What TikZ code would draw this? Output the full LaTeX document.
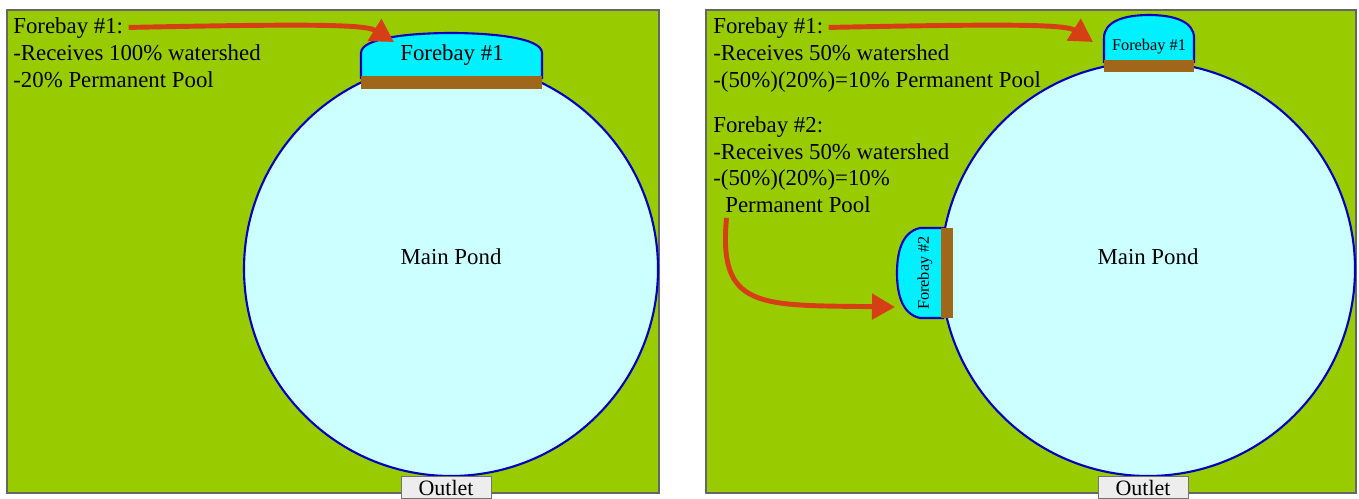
\documentclass[tikz,border=0pt]{standalone}
\usepackage{fontspec}
\setmainfont{Liberation Serif}
\usetikzlibrary{arrows.meta}
\definecolor{grass}{RGB}{153,204,0}
\definecolor{pondfill}{RGB}{204,255,255}
\definecolor{forebayfill}{RGB}{0,240,255}
\definecolor{bermbrown}{RGB}{160,102,26}
\definecolor{rim}{RGB}{0,0,190}
\definecolor{flowred}{RGB}{214,62,22}

\begin{document}
\begin{tikzpicture}[x=0.02cm,y=-0.02cm,
    panel/.style={fill=grass,draw=black!60,line width=0.6pt},
    pond/.style={fill=pondfill,draw=rim,line width=1.2pt},
    dome/.style={fill=forebayfill,draw=rim,line width=1.2pt},
    berm/.style={fill=bermbrown},
    flow/.style={draw=flowred,line width=2.8pt,shorten <=3pt,-{Triangle[length=0.46cm,width=0.5cm]}},
    note/.style={anchor=base west,inner sep=0pt,font=\fontsize{13}{15}\selectfont},
    label/.style={inner sep=0pt,font=\fontsize{13}{15}\selectfont},
    small/.style={inner sep=0pt,font=\fontsize{9.3}{11}\selectfont},
    outlet/.style={draw=black!55,fill=black!7,minimum width=1.8cm,minimum height=0.44cm,inner sep=0pt,font=\fontsize{12.5}{14}\selectfont}]
  \useasboundingbox (0,0) rectangle (1359,498);

  \path[panel] (7,10) rectangle (659,493);
  \path[panel] (706,10) rectangle (1356,493);

  \path[pond] (451,269) circle[radius=207];
  \path[pond] (1148,269) circle[radius=207];

  \path[dome] (361,78) -- (361,53) .. controls (361,37) and (415,33) .. (451,33) .. controls (487,33) and (542,37) .. (542,53) -- (542,78) -- cycle;
  \path[berm] (361,76) rectangle (542,89);
  \path[dome] (1104,62) -- (1104,38) .. controls (1104,21) and (1125,15) .. (1149,15) .. controls (1173,15) and (1194,21) .. (1194,38) -- (1194,62) -- cycle;
  \path[berm] (1104,60) rectangle (1194,72);
  \path[dome] (943,228) -- (920,228) .. controls (902,232) and (897,252) .. (897,273) .. controls (897,294) and (902,314) .. (920,318) -- (943,318) -- cycle;
  \path[berm] (941,228) rectangle (953,318);

  \node[label] (lfore) at (452,55) {Forebay \#1};
  \node[small] (rfore1) at (1149,47) {Forebay \#1};
  \node[small,rotate=90] (rfore2) at (925,273) {Forebay \#2};
  \node[label] (lmain) at (451,257) {Main Pond};
  \node[label] (rmain) at (1148,257) {Main Pond};
  \node[outlet] (lout) at (446,487.5) {Outlet};
  \node[outlet] (rout) at (1143,487.5) {Outlet};

  \node[note] (lhead) at (13,33) {Forebay \#1:};
  \node[note] (lrecv) at (13,60) {-Receives 100\% watershed};
  \node[note] (lpool) at (13,87) {-20\% Permanent Pool};

  \node[note] (rhead1) at (713,33) {Forebay \#1:};
  \node[note] (rrecv1) at (713,60) {-Receives 50\% watershed};
  \node[note] (rpool1) at (713,87) {-(50\%)(20\%)=10\% Permanent Pool};
  \node[note] (rhead2) at (713,132) {Forebay \#2:};
  \node[note] (rrecv2) at (713,159) {-Receives 50\% watershed};
  \node[note] (rcalc2) at (713,185) {-(50\%)(20\%)=10\%};
  \node[note] (rpool2) at (725,212) {Permanent Pool};

  \coordinate (ltip) at (394,42);
  \coordinate (rtip1) at (1093,42);
  \coordinate (rtip2) at (895,307);
  \draw[flow] (lhead.east) .. controls (300,24) and (365,24) .. (ltip);
  \draw[flow] (rhead1.east) .. controls (1000,24) and (1065,24) .. (rtip1);
  \draw[flow] ([xshift=0.04cm]rpool2.south west) .. controls (718,310) and (760,305) .. (rtip2);
\end{tikzpicture}
\end{document}
